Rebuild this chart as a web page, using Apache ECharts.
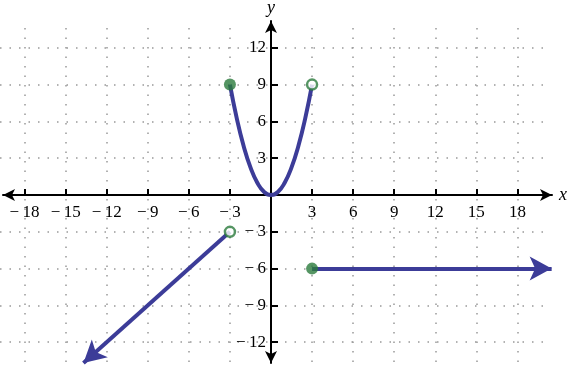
<!DOCTYPE html>
<html>
<head>
<meta charset="utf-8">
<script src="https://cdn.jsdelivr.net/npm/echarts@6/dist/echarts.min.js"></script>
<style>html,body{margin:0;padding:0;background:#fff}#c{width:569px;height:366px}</style>
</head>
<body>
<div id="c"></div>
<script>
// ---- data ----
const xTicks = [-18, -15, -12, -9, -6, -3, 3, 6, 9, 12, 15, 18];
const yTicks = [-12, -9, -6, -3, 3, 6, 9, 12];
const parabolaX = [-3, -2.5, -2, -1.5, -1, -0.5, 0, 0.5, 1, 1.5, 2, 2.5, 3];
const parabolaY = [9, 6.25, 4, 2.25, 1, 0.25, 0, 0.25, 1, 2.25, 4, 6.25, 9];
const leftRayStart = [-3, -3];
const leftRayEnd = [-13.7, -13.7];
const rightRayStart = [3, -6];
const rightRayEnd = [20.5, -6];
const closedDots = [[-3, 9], [3, -6]];
const openDots = [[3, 9], [-3, -3]];

// ---- layout (pixel scale) ----
const W = 569, H = 366;
const OX = 271, OY = 195, SX = 13.69, SY = 12.27;
const BLUE = '#3c3c98', GREEN = '#2a7b3c';
const FONT = 'Liberation Serif';

function box(l, r, t, b) {
  return { grid: { left: l, right: W - r, top: t, bottom: H - b, containLabel: false, outerBoundsMode: 'none' },
           xmin: (l - OX) / SX, xmax: (r - OX) / SX,
           ymax: (OY - t) / SY, ymin: (OY - b) / SY };
}
const g0 = box(0, 543, 28, 366);   // dotted grid
const gx = box(3, 552, 21, OY);    // x axis (bottom edge at y=0)
const gy = box(OX, 552, 21, 363);  // y axis (left edge at x=0)
const gd = box(0, W, 0, H);        // data

function fmt(v) { return v === 0 ? '' : (v < 0 ? '\u2212\u2009' + Math.abs(v) : String(v)); }

const dotted = { color: '#999999', width: 1.5, type: [1.5, 8] };
const hiddenAxis = (gi, b, dir) => ({
  type: 'value', gridIndex: gi, min: dir === 'x' ? b.xmin : b.ymin, max: dir === 'x' ? b.xmax : b.ymax,
  show: false, splitLine: { show: false }
});
const axisLine = { show: true, onZero: false, symbol: ['arrow', 'arrow'], symbolSize: [9, 12],
                   lineStyle: { color: '#000', width: 2 } };
const nameStyle = { fontFamily: FONT, fontSize: 18, fontStyle: 'italic', color: '#000' };
const labelStyle = { fontFamily: FONT, fontSize: 17, color: '#000' };

const chart = echarts.init(document.getElementById('c'), null, { renderer: 'canvas' });
chart.setOption({
  animation: false,
  backgroundColor: '#fff',
  grid: [g0.grid, gx.grid, gy.grid, gd.grid],
  xAxis: [
    { type: 'value', gridIndex: 0, min: g0.xmin, max: g0.xmax,
      axisLine: { show: false }, axisLabel: { show: false, customValues: xTicks },
      axisTick: { show: false, customValues: xTicks },
      splitLine: { show: true, lineStyle: dotted } },
    { type: 'value', gridIndex: 1, min: gx.xmin, max: gx.xmax, position: 'bottom',
      axisLine: axisLine,
      axisTick: { show: true, inside: true, length: 6, lineStyle: { color: '#000', width: 2 }, customValues: xTicks },
      axisLabel: Object.assign({ show: true, customValues: xTicks, formatter: fmt, margin: 9 }, labelStyle),
      splitLine: { show: false },
      name: 'x', nameLocation: 'end', nameGap: 7, nameTextStyle: nameStyle },
    hiddenAxis(2, gy, 'x'),
    hiddenAxis(3, gd, 'x')
  ],
  yAxis: [
    { type: 'value', gridIndex: 0, min: g0.ymin, max: g0.ymax,
      axisLine: { show: false }, axisLabel: { show: false, customValues: yTicks },
      axisTick: { show: false, customValues: yTicks },
      splitLine: { show: true, lineStyle: dotted } },
    hiddenAxis(1, gx, 'y'),
    { type: 'value', gridIndex: 2, min: gy.ymin, max: gy.ymax, position: 'left',
      axisLine: axisLine,
      axisTick: { show: true, inside: true, length: 7, lineStyle: { color: '#000', width: 2 }, customValues: yTicks },
      axisLabel: Object.assign({ show: true, customValues: yTicks, formatter: fmt, margin: 5 }, labelStyle),
      splitLine: { show: false },
      name: 'y', nameLocation: 'end', nameGap: 4, nameTextStyle: nameStyle },
    hiddenAxis(3, gd, 'y')
  ],
  series: [
    { type: 'line', xAxisIndex: 3, yAxisIndex: 3, smooth: true, symbol: 'none', clip: false,
      data: parabolaX.map((x, i) => [x, parabolaY[i]]),
      lineStyle: { color: BLUE, width: 4 }, z: 5 },
    { type: 'line', xAxisIndex: 3, yAxisIndex: 3, symbol: 'none', data: [], clip: false, z: 5,
      markLine: { silent: true, animation: false, symbol: ['none', 'arrow'], symbolSize: [18, 22],
        label: { show: false }, lineStyle: { color: BLUE, width: 4, type: 'solid' },
        emphasis: { disabled: true },
        data: [
          [{ coord: leftRayStart, symbol: 'none' }, { coord: leftRayEnd }],
          [{ coord: rightRayStart, symbol: 'none' }, { coord: rightRayEnd }]
        ] } },
    { type: 'scatter', xAxisIndex: 3, yAxisIndex: 3, data: closedDots, symbolSize: 12, clip: false,
      itemStyle: { color: GREEN }, z: 10 },
    { type: 'scatter', xAxisIndex: 3, yAxisIndex: 3, data: openDots, symbolSize: 10, clip: false,
      itemStyle: { color: '#fff', borderColor: GREEN, borderWidth: 2.5 }, z: 10 }
  ]
});
</script>
</body>
</html>
